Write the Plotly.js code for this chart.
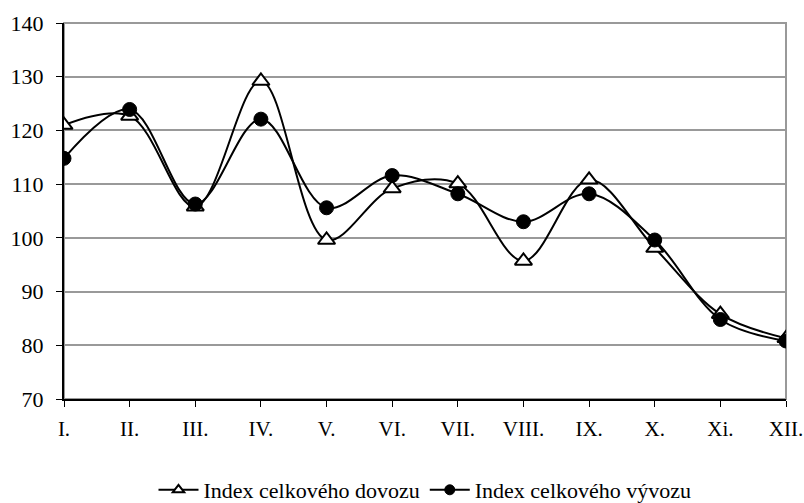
<!DOCTYPE html>
<html>
<head>
<meta charset="utf-8">
<script src="https://cdn.plot.ly/plotly-3.0.1.min.js"></script>
<style>html,body{margin:0;padding:0;background:#fff;}#chart{width:804px;height:503px;}</style>
</head>
<body>
<div id="chart"></div>
<script>
const months = ["I.", "II.", "III.", "IV.", "V.", "VI.", "VII.", "VIII.", "IX.", "X.", "Xi.", "XII."];
const dovoz = [121, 122.7, 105.8, 129.2, 99.6, 109.2, 110.1, 95.7, 110.8, 98.1, 85.8, 81.3];
const vyvoz = [114.8, 123.9, 106.3, 122.1, 105.6, 111.6, 108.2, 103.0, 108.2, 99.6, 84.8, 80.8];
const seriesNames = ["Index celkového dovozu", "Index celkového vývozu"];
const yTicks = [70, 80, 90, 100, 110, 120, 130, 140];

const font = {family: "Liberation Serif, Times New Roman, serif", color: "#000"};

const triMarker = (s) => ({symbol: "triangle-up", size: s, color: "#fff", line: {color: "#000", width: 2}});
const dotMarker = (s) => ({symbol: "circle", size: s, color: "#000", line: {color: "#000", width: 1}});

const traces = [
  {
    x: months, y: dovoz, name: seriesNames[0], type: "scatter", mode: "lines+markers", showlegend: false,
    line: {color: "#000", width: 2, shape: "spline", smoothing: 1},
    marker: triMarker(15)
  },
  {
    x: months, y: vyvoz, name: seriesNames[1], type: "scatter", mode: "lines+markers", showlegend: false,
    line: {color: "#000", width: 2, shape: "spline", smoothing: 1},
    marker: dotMarker(14)
  },
  // legend entries (smaller symbols, as in the reference legend)
  {x: [null], y: [null], name: seriesNames[0], type: "scatter", mode: "lines+markers",
   line: {color: "#000", width: 2}, marker: triMarker(10)},
  {x: [null], y: [null], name: seriesNames[1], type: "scatter", mode: "lines+markers",
   line: {color: "#000", width: 2}, marker: dotMarker(10)}
];

const layout = {
  width: 804, height: 503,
  margin: {l: 64, r: 18, t: 23, b: 104, autoexpand: false},
  paper_bgcolor: "#fff", plot_bgcolor: "#fff",
  font: Object.assign({size: 20}, font),
  showlegend: true,
  legend: {
    orientation: "h", x: 0.5, xanchor: "center", y: -0.242, yanchor: "middle",
    font: Object.assign({size: 22}, font), itemwidth: 40, tracegroupgap: 0
  },
  xaxis: {
    type: "category", range: [0, 11], showgrid: false,
    showline: true, linecolor: "#000", linewidth: 2,
    ticks: "outside", ticklen: 6, tickwidth: 1, tickcolor: "#000",
    ticklabelstandoff: 4, tickfont: Object.assign({size: 21}, font),
    zeroline: false
  },
  yaxis: {
    range: [70, 140], tickvals: yTicks, showgrid: true, gridcolor: "#999", gridwidth: 2,
    showline: true, linecolor: "#000", linewidth: 2,
    ticks: "outside", ticklen: 6, tickwidth: 1, tickcolor: "#000",
    ticklabelstandoff: 8, tickfont: Object.assign({size: 22}, font),
    zeroline: false
  },
  shapes: [
    {type: "rect", xref: "paper", yref: "paper", x0: 0, x1: 1, y0: 0, y1: 1,
     line: {color: "#999", width: 2}, layer: "below"}
  ]
};

Plotly.newPlot("chart", traces, layout, {displayModeBar: false, staticPlot: true});
</script>
</body>
</html>
